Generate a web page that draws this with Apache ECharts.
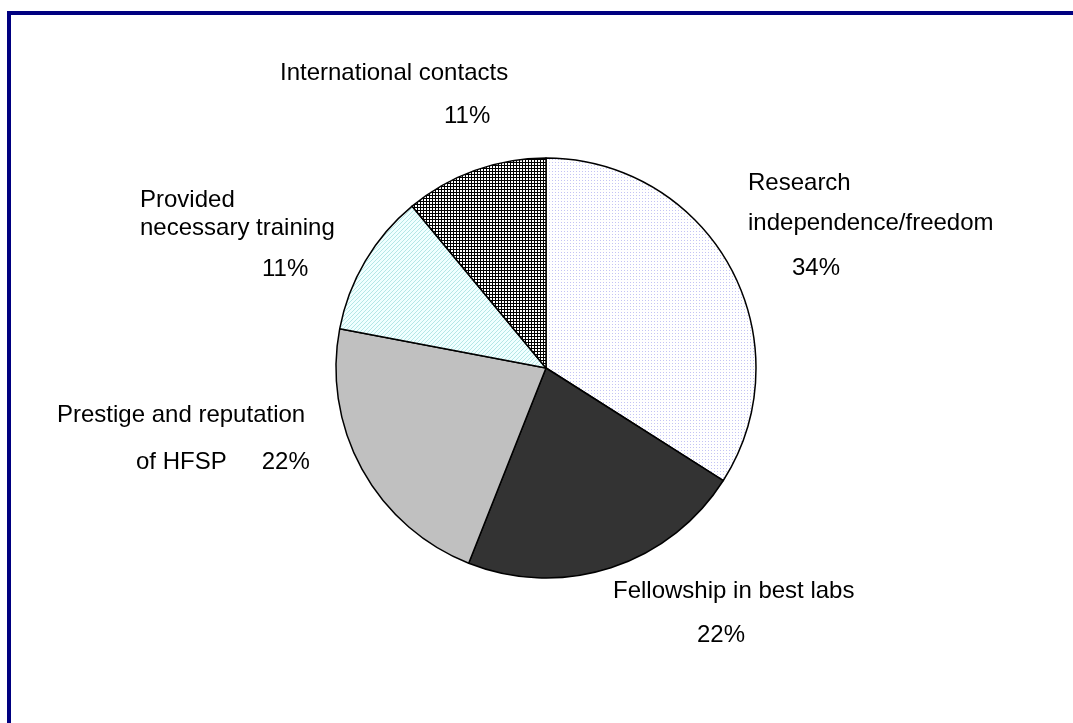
<!DOCTYPE html>
<html>
<head>
<meta charset="utf-8">
<title>Reasons for choosing HFSP</title>
<script src="https://cdn.jsdelivr.net/npm/echarts@6/dist/echarts.min.js"></script>
<style>
  html, body { margin: 0; padding: 0; background: #fff; }
  #chart { width: 1073px; height: 723px; }
</style>
</head>
<body>
<div id="chart"></div>
<script>
// Slice names and values (percent of respondents), clockwise from 12 o'clock
var categories = [
  'Research independence/freedom',
  'Fellowship in best labs',
  'Prestige and reputation of HFSP',
  'Provided necessary training',
  'International contacts'
];
var values = [34, 22, 22, 11, 11];

// Wrapped label text for each slice (the percentage line is appended from the value)
var labelText = [
  ['Research', 'independence/freedom'],
  ['Fellowship in best labs'],
  ['Prestige and reputation', 'of HFSP'],
  ['Provided', 'necessary training'],
  ['International contacts']
];

// ---- fill patterns -------------------------------------------------------
function makeTile(w, h, draw) {
  var c = document.createElement('canvas');
  c.width = w; c.height = h;
  var g = c.getContext('2d');
  draw(g);
  return { image: c, repeat: 'repeat' };
}
// pale lavender dot screen
var dotFill = makeTile(3, 3, function (g) {
  g.fillStyle = '#ffffff'; g.fillRect(0, 0, 3, 3);
  g.fillStyle = '#c4c4f4'; g.fillRect(0, 0, 1, 1);
});
// fine black cross-hatch
var gridFill = makeTile(3, 3, function (g) {
  g.fillStyle = '#ffffff'; g.fillRect(0, 0, 3, 3);
  g.fillStyle = '#000000';
  g.fillRect(0, 0, 3, 1);
  g.fillRect(0, 0, 1, 3);
});
// light cyan diagonal hatch
var cyanFill = makeTile(4, 4, function (g) {
  g.fillStyle = '#f0ffff'; g.fillRect(0, 0, 4, 4);
  g.fillStyle = '#b4e6e6';
  for (var i = 0; i < 4; i++) g.fillRect(i, 3 - i, 1, 1);
});
var fills = [dotFill, '#333333', '#c0c0c0', cyanFill, gridFill];

// ---- label layout: anchor (top-left), per-line heights and indents -------
var labelStyle = [
  { x: 748, y: 163, lh: [40, 40, 50], indent: [0, 0, 44] },
  { x: 613, y: 569, lh: [44, 44],     indent: [0, 84] },
  { x: 57,  y: 392, lh: [47, 47],     indent: [0, 79], gap: 35 },
  { x: 140, y: 186, lh: [28, 28, 54], indent: [0, 0, 122] },
  { x: 280, y: 52,  lh: [43, 43],     indent: [0, 164] }
];

var FONT = '"Liberation Sans", Arial, Helvetica, sans-serif';
var FS = 24;

function richFor(i) {
  var st = labelStyle[i], rich = {};
  for (var k = 0; k < st.lh.length; k++) {
    rich['l' + k] = {
      fontFamily: FONT, fontSize: FS, color: '#000',
      lineHeight: st.lh[k],
      padding: [0, 0, 0, st.indent[k]]
    };
  }
  rich.p = { fontFamily: FONT, fontSize: FS, color: '#000',
             lineHeight: st.lh[st.lh.length - 1],
             padding: [0, 0, 0, st.gap || 0] };
  return rich;
}

function formatLabel(params) {
  var i = params.dataIndex;
  var lines = labelText[i];
  var pct = Math.round(params.percent) + '%';
  var out = [];
  for (var k = 0; k < lines.length; k++) out.push('{l' + k + '|' + lines[k] + '}');
  if (labelStyle[i].gap) {
    // percentage shares the last text line
    out[out.length - 1] += '{p|' + pct + '}';
  } else {
    out.push('{l' + lines.length + '|' + pct + '}');
  }
  return out.join('\n');
}

var data = categories.map(function (name, i) {
  return {
    name: name,
    value: values[i],
    itemStyle: { color: fills[i] },
    label: { rich: richFor(i) }
  };
});

var chart = echarts.init(document.getElementById('chart'), null, { renderer: 'canvas' });
chart.setOption({
  animation: false,
  backgroundColor: '#ffffff',
  graphic: [{
    type: 'rect',
    shape: { x: 9, y: 13, width: 1200, height: 900 },
    style: { fill: 'none', stroke: '#000080', lineWidth: 4 },
    silent: true
  }],
  series: [{
    type: 'pie',
    center: [546, 368],
    radius: 210,
    startAngle: 90,
    clockwise: true,
    data: data,
    itemStyle: { borderColor: '#000000', borderWidth: 1.5 },
    label: {
      show: true,
      position: 'outside',
      formatter: formatLabel,
      align: 'left'
    },
    labelLine: { show: false },
    labelLayout: function (params) {
      var st = labelStyle[params.dataIndex];
      return { x: st.x, y: st.y, align: 'left', verticalAlign: 'top' };
    },
    emphasis: { disabled: true }
  }]
});
</script>
</body>
</html>
